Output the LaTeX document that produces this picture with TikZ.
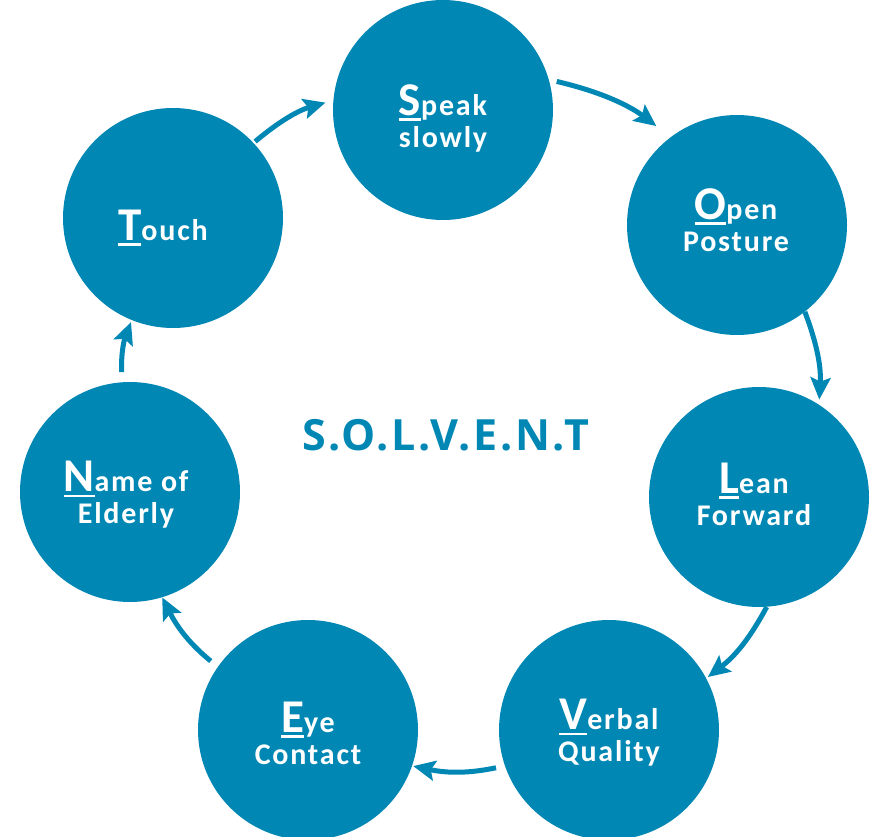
\documentclass[tikz,border=0pt]{standalone}
\usepackage{fontspec}
\setmainfont{Carlito}[LetterSpace=6]
\newfontfamily\titlefont{Open Sans}[LetterSpace=6]
\usetikzlibrary{arrows.meta}

\definecolor{solventblue}{HTML}{0087B4}

% big underlined first letter of each word
\newcommand{\firstletter}[1]{\setbox0\hbox{\fontsize{47}{47}\selectfont #1}\rlap{\rule[-5.5pt]{\wd0}{2.5pt}}\box0}

\tikzset{
  stage/.style={circle, fill=solventblue, minimum size=220pt, inner sep=0pt},
  word/.style={text=white, align=center, font=\fontsize{30}{32}\selectfont\bfseries},
  ringarrow/.style={solventblue, line width=5pt, -{Stealth[length=22pt,width=20pt,inset=4pt]}, bend left=12}
}

\begin{document}
\begin{tikzpicture}[x=1pt,y=1pt]
  \useasboundingbox (0,0) rectangle (872,836);

  % the seven circles
  \node[stage] (speak)  at (443,726) {};
  \node[stage] (open)   at (737,611) {};
  \node[stage] (lean)   at (759,339) {};
  \node[stage] (verbal) at (609,106) {};
  \node[stage] (eye)    at (308,106) {};
  \node[stage] (name)   at (130,344) {};
  \node[stage] (touch)  at (173,618) {};

  % their words
  \node[word] (speak-t)  at ([yshift=-8pt]speak)             {\firstletter{S}peak\\slowly};
  \node[word] (open-t)   at ([xshift=-1pt,yshift=5pt]open)   {\firstletter{O}pen\\Posture};
  \node[word] (lean-t)   at ([xshift=-5pt,yshift=3pt]lean)   {\firstletter{L}ean\\Forward};
  \node[word] (verbal-t) at ([yshift=-3pt]verbal)            {\firstletter{V}erbal\\Quality};
  \node[word] (eye-t)    at ([yshift=-3pt]eye)               {\firstletter{E}ye\\Contact};
  \node[word] (name-t)   at ([xshift=-4pt,yshift=-3pt]name)  {\firstletter{N}ame of\\Elderly};
  \node[word] (touch-t)  at ([xshift=-10pt,yshift=-10pt]touch) {\firstletter{T}ouch};

  % word in the middle
  \node[font=\titlefont\fontsize{43}{43}\selectfont\bfseries, text=solventblue] (title) at (446,401) {S.O.L.V.E.N.T};

  % arrows, clockwise
  \draw[ringarrow, shorten <=2pt, shorten >=8pt] (touch.43) to (speak.175);
  \draw[ringarrow, shorten <=8pt, shorten >=18pt] (speak.16) to (open.127);
  \draw[ringarrow, shorten <=0pt, shorten >=5pt] (open.-52) to (lean.57);
  \draw[ringarrow, shorten <=0pt, shorten >=2pt] (lean.-86) to (verbal.28);
  \draw[ringarrow, shorten <=9pt, shorten >=1pt] (verbal.199) to (eye.-19);
  \draw[ringarrow, shorten <=9pt, shorten >=0pt] (eye.145) to (name.-73);
  \draw[ringarrow, shorten <=10pt, shorten >=2pt] (name.94) to (touch.-112);
\end{tikzpicture}
\end{document}
